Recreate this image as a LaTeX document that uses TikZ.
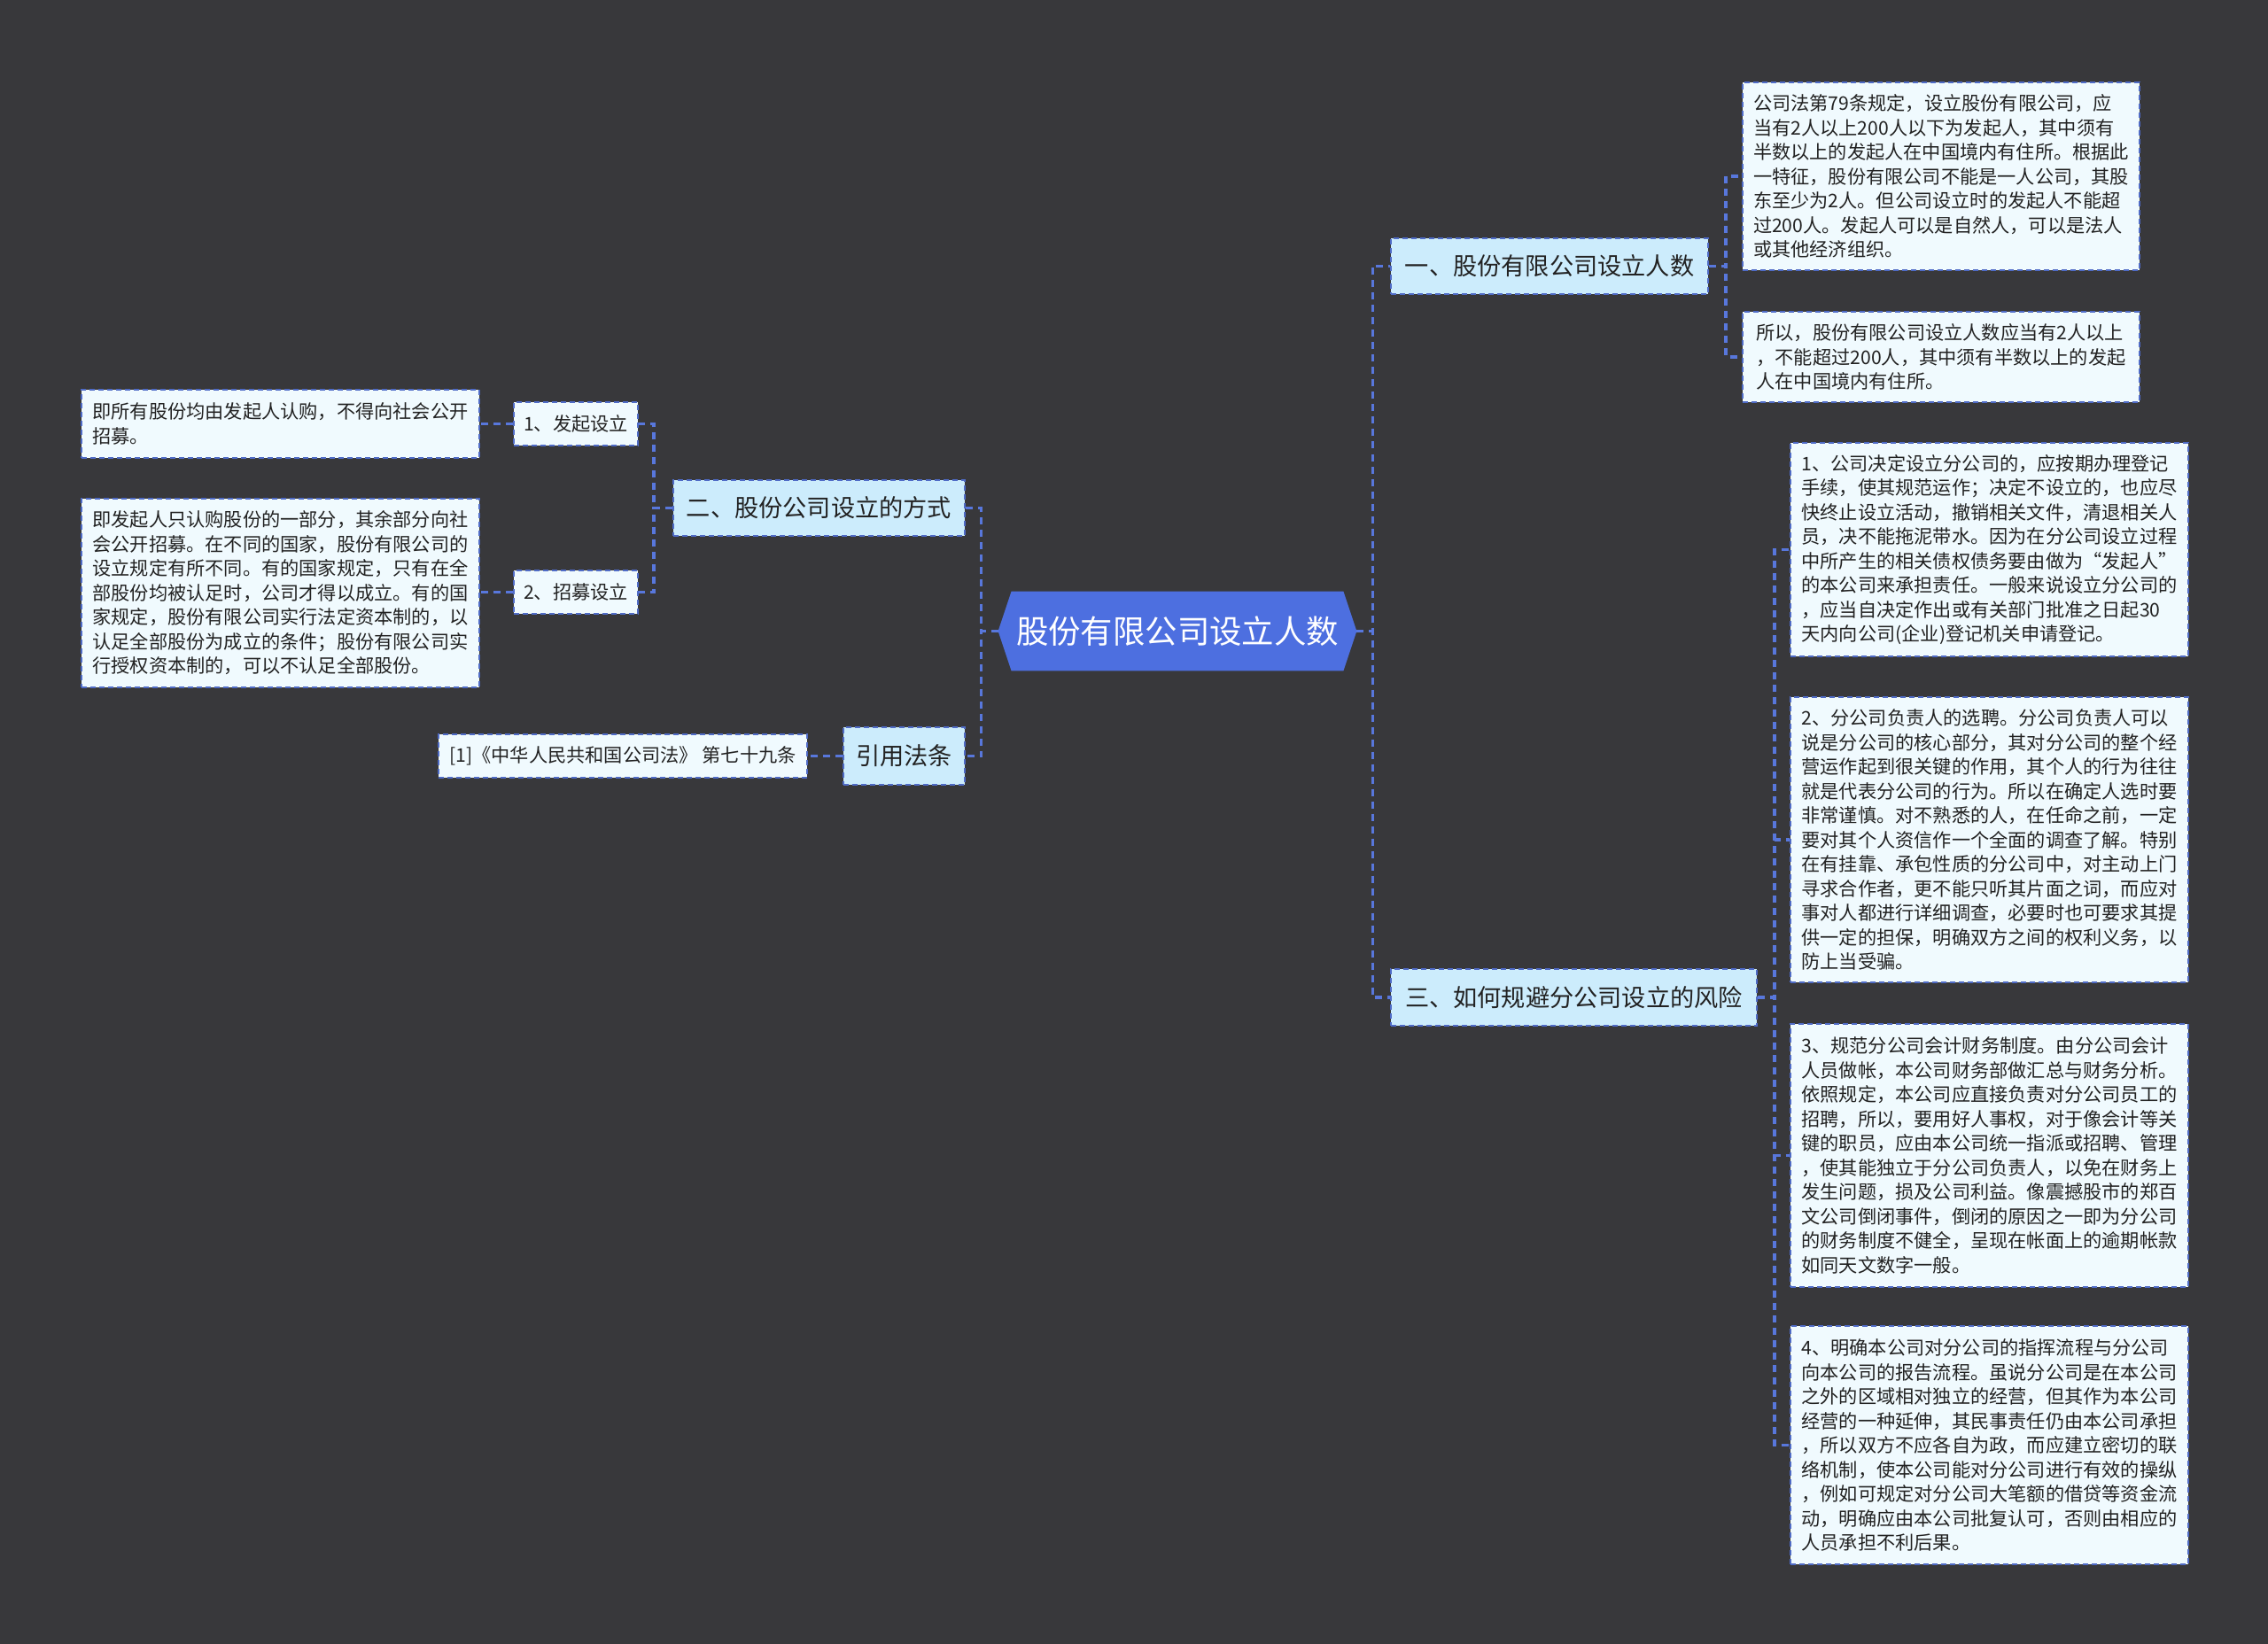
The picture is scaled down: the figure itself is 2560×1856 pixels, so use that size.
\documentclass[tikz,border=0pt]{standalone}
\usepackage{fontspec}
\setmainfont{Noto Sans CJK SC}
\definecolor{bgc}{HTML}{38383B}
\definecolor{rootc}{HTML}{4D6FE0}
\definecolor{brc}{HTML}{CCECFC}
\definecolor{leafc}{HTML}{F0FAFE}
\definecolor{bordc}{HTML}{4F6BC6}
\definecolor{connc}{HTML}{5877DC}
\definecolor{txtc}{HTML}{222222}
\begin{document}
\begin{tikzpicture}[x=0.5pt,y=-0.5pt,
  box/.style={draw=bordc, line width=1pt, dash pattern=on 3pt off 2pt, align=left,
    inner xsep=4pt, inner ysep=2pt, anchor=north west, text=txtc},
  leaf/.style={box, fill=leafc, font=\fontsize{10.6}{13.75}\selectfont},
  branch/.style={box, fill=brc, font=\fontsize{13.6}{16}\selectfont, align=center},
  rootn/.style={text=white, font=\fontsize{18.2}{22}\selectfont, inner sep=0pt},
  conn/.style={draw=connc, line width=1.8pt, dash pattern=on 4pt off 3pt}]
\fill[bgc] (0,0) rectangle (2560,1856);
\useasboundingbox (0,0) rectangle (2560,1856);

% root
\node[rootn, minimum width=202pt, minimum height=44.5pt] (root) at (1329,712.5) {\phantom{股份有限公司设立人数}};
\fill[rootc] (root.west) -- ([xshift=7.5pt]root.north west) -- ([xshift=-7.5pt]root.north east)
  -- (root.east) -- ([xshift=-7.5pt]root.south east) -- ([xshift=7.5pt]root.south west) -- cycle;
\node[rootn] (roottext) at (root.center) {股份有限公司设立人数};

% branches
\node[branch, minimum width=179pt, minimum height=31.5pt] (b1) at (1569,268) {一、股份有限公司设立人数};
\node[branch, minimum width=164.5pt, minimum height=31.5pt] (b2) at (759,541) {二、股份公司设立的方式};
\node[branch, minimum width=206.5pt, minimum height=32pt] (b3) at (1569,1093) {三、如何规避分公司设立的风险};
\node[branch, minimum width=68.5pt, minimum height=32.5pt] (b4) at (951,820) {引用法条};

% branch 2 items
\node[leaf, minimum width=70pt, minimum height=24.5pt, align=center] (s1) at (579,453) {1、发起设立};
\node[leaf, minimum width=70pt, minimum height=24.5pt, align=center] (s2) at (579,643) {2、招募设立};

% leaves
\node[leaf, minimum width=224.5pt, minimum height=38.5pt] (l2a) at (91,439) {即所有股份均由发起人认购，不得向社会公开\\
招募。};
\node[leaf, minimum width=224.5pt, minimum height=106.5pt] (l2b) at (91,562) {即发起人只认购股份的一部分，其余部分向社\\
会公开招募。在不同的国家，股份有限公司的\\
设立规定有所不同。有的国家规定，只有在全\\
部股份均被认足时，公司才得以成立。有的国\\
家规定，股份有限公司实行法定资本制的，以\\
认足全部股份为成立的条件；股份有限公司实\\
行授权资本制的，可以不认足全部股份。};
\node[leaf, minimum width=208pt, minimum height=24.5pt] (l4) at (494,828) {[1]《中华人民共和国公司法》 第七十九条};

\node[leaf, minimum width=224pt, minimum height=106pt] (l1a) at (1966,92) {公司法第79条规定，设立股份有限公司，应\\
当有2人以上200人以下为发起人，其中须有\\
半数以上的发起人在中国境内有住所。根据此\\
一特征，股份有限公司不能是一人公司，其股\\
东至少为2人。但公司设立时的发起人不能超\\
过200人。发起人可以是自然人，可以是法人\\
或其他经济组织。};
\node[leaf, minimum width=224pt, minimum height=51pt] (l1b) at (1966,351) {所以，股份有限公司设立人数应当有2人以上\\
，不能超过200人，其中须有半数以上的发起\\
人在中国境内有住所。};

\node[leaf, minimum width=224.5pt, minimum height=120.5pt] (l3a) at (2020,499) {1、公司决定设立分公司的，应按期办理登记\\
手续，使其规范运作；决定不设立的，也应尽\\
快终止设立活动，撤销相关文件，清退相关人\\
员，决不能拖泥带水。因为在分公司设立过程\\
中所产生的相关债权债务要由做为“发起人”\\
的本公司来承担责任。一般来说设立分公司的\\
，应当自决定作出或有关部门批准之日起30\\
天内向公司(企业)登记机关申请登记。};
\node[leaf, minimum width=224.5pt, minimum height=161pt] (l3b) at (2020,786) {2、分公司负责人的选聘。分公司负责人可以\\
说是分公司的核心部分，其对分公司的整个经\\
营运作起到很关键的作用，其个人的行为往往\\
就是代表分公司的行为。所以在确定人选时要\\
非常谨慎。对不熟悉的人，在任命之前，一定\\
要对其个人资信作一个全面的调查了解。特别\\
在有挂靠、承包性质的分公司中，对主动上门\\
寻求合作者，更不能只听其片面之词，而应对\\
事对人都进行详细调查，必要时也可要求其提\\
供一定的担保，明确双方之间的权利义务，以\\
防上当受骗。};
\node[leaf, minimum width=224.5pt, minimum height=148.5pt] (l3c) at (2020,1155) {3、规范分公司会计财务制度。由分公司会计\\
人员做帐，本公司财务部做汇总与财务分析。\\
依照规定，本公司应直接负责对分公司员工的\\
招聘，所以，要用好人事权，对于像会计等关\\
键的职员，应由本公司统一指派或招聘、管理\\
，使其能独立于分公司负责人，以免在财务上\\
发生问题，损及公司利益。像震撼股市的郑百\\
文公司倒闭事件，倒闭的原因之一即为分公司\\
的财务制度不健全，呈现在帐面上的逾期帐款\\
如同天文数字一般。};
\node[leaf, minimum width=224.5pt, minimum height=134.5pt] (l3d) at (2020,1496) {4、明确本公司对分公司的指挥流程与分公司\\
向本公司的报告流程。虽说分公司是在本公司\\
之外的区域相对独立的经营，但其作为本公司\\
经营的一种延伸，其民事责任仍由本公司承担\\
，所以双方不应各自为政，而应建立密切的联\\
络机制，使本公司能对分公司进行有效的操纵\\
，例如可规定对分公司大笔额的借贷等资金流\\
动，明确应由本公司批复认可，否则由相应的\\
人员承担不利后果。};

% connectors
\draw[conn] (root.east) -- ++(18,0) |- (b1.west);
\draw[conn] (root.east) -- ++(18,0) |- (b3.west);
\draw[conn] (root.west) -- ++(-19,0) |- (b2.east);
\draw[conn] (root.west) -- ++(-19,0) |- (b4.east);
\draw[conn] (b1.east) -- ++(19,0) |- (l1a.west);
\draw[conn] (b1.east) -- ++(19,0) |- (l1b.west);
\draw[conn] (b3.east) -- ++(19,0) |- (l3a.west);
\draw[conn] (b3.east) -- ++(19,0) |- (l3b.west);
\draw[conn] (b3.east) -- ++(19,0) |- (l3c.west);
\draw[conn] (b3.east) -- ++(19,0) |- (l3d.west);
\draw[conn] (b2.west) -- ++(-21,0) |- (s1.east);
\draw[conn] (b2.west) -- ++(-21,0) |- (s2.east);
\draw[conn] (s1.west) -- (s1.west -| l2a.east);
\draw[conn] (s2.west) -- (s2.west -| l2b.east);
\draw[conn] (b4.west) -- (b4.west -| l4.east);
\end{tikzpicture}
\end{document}
